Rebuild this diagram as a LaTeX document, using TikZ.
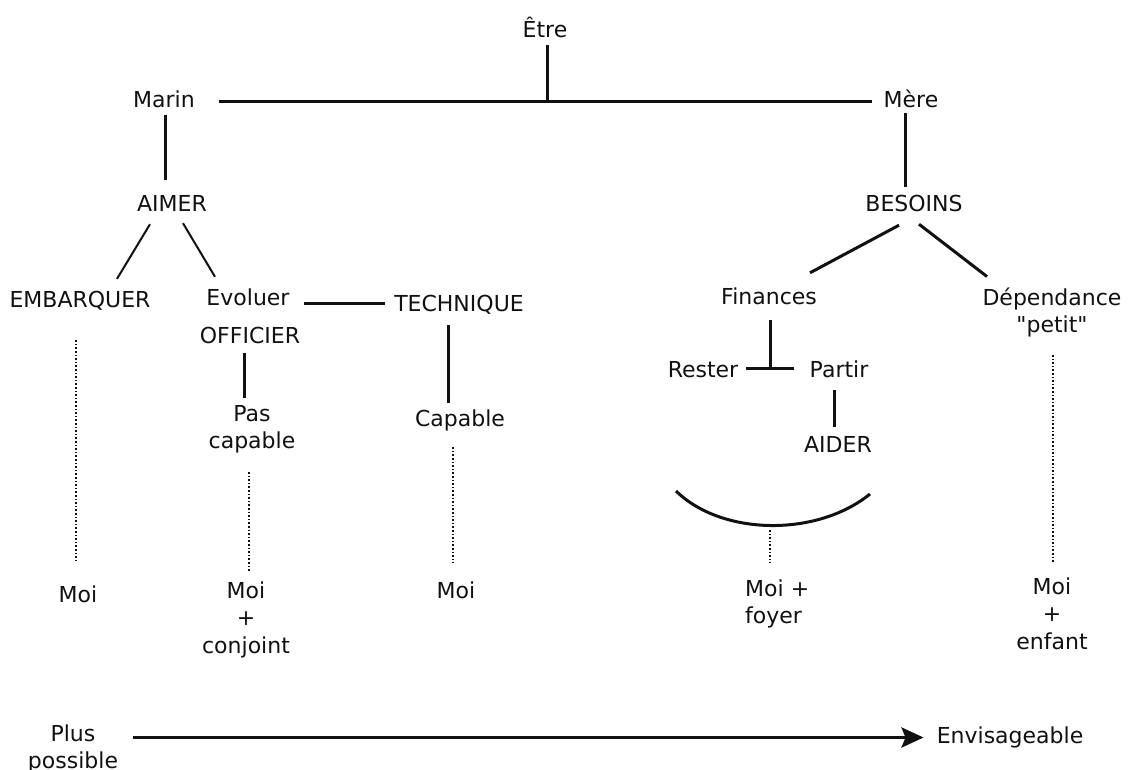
\documentclass[tikz,border=0pt]{standalone}
\usepackage{fontspec}
\setmainfont{DejaVu Sans}
\usetikzlibrary{arrows.meta}
\definecolor{ink}{HTML}{111111}
% straight double quote, set as a glyph so that the TeX text mapping leaves it alone
\newcommand\straightdq{\XeTeXglyph\XeTeXcharglyph"22\relax}

\tikzset{
  word/.style={inner sep=0pt, anchor=base, text height=16pt, text depth=5pt,
               font=\fontsize{22}{27.5}\selectfont, text=ink},
  stack/.style={inner sep=0pt, anchor=base, font=\fontsize{22}{27.5}\selectfont, text=ink},
  link/.style={line width=3pt, draw=ink},
  thinlink/.style={line width=2pt, draw=ink},
  hint/.style={line width=1.6pt, draw=ink, dash pattern=on 1.6pt off 2pt},
  arrowline/.style={line width=3.5pt, draw=ink,
                    -{Stealth[length=22pt,width=20pt,inset=4pt]}},
}

\begin{document}
\begin{tikzpicture}[x=1pt, y=-1pt]
\useasboundingbox (0,0) rectangle (1131,769);

% top of the tree
\node[word] (etre) at (545,37) {Être};
\node[word] (marin) at (164,107) {Marin};
\node[word] (mere) at (911,107) {Mère};
\coordinate (hub) at (547,103);

% left branch
\node[word] (aimer) at (172,211) {AIMER};
\node[word] (embarquer) at (80,307) {EMBARQUER};
\node[word] (evoluer) at (248,305) {Evoluer};
\node[word] (officier) at (250,343) {OFFICIER};
\node[word] (technique) at (459,311) {TECHNIQUE};
\node[stack] (pascap) at (252,421) {\begin{tabular}[t]{@{}c@{}}Pas\\capable\end{tabular}};
\node[word] (capable) at (460,426) {Capable};

% right branch
\node[word] (besoins) at (914,211) {BESOINS};
\node[word] (finances) at (769,304) {Finances};
\node[stack] (dep) at (1052,305) {\begin{tabular}[t]{@{}c@{}}Dépendance\\\straightdq petit\straightdq\end{tabular}};
\node[word] (rester) at (703,377) {Rester};
\node[word] (partir) at (839,377) {Partir};
\node[word] (aider) at (838,452) {AIDER};

% outcomes
\node[word] (moiA) at (78,602) {Moi};
\node[stack] (moiB) at (246,598) {\begin{tabular}[t]{@{}c@{}}Moi\\+\\conjoint\end{tabular}};
\node[word] (moiC) at (456,598) {Moi};
\node[stack, anchor=base west] (moiD) at (745,596) {\begin{tabular}[t]{@{}l@{}}Moi +\\foyer\end{tabular}};
\node[stack] (moiE) at (1052,594) {\begin{tabular}[t]{@{}c@{}}Moi\\+\\enfant\end{tabular}};

% scale at the bottom
\node[stack] (plus) at (73,741) {\begin{tabular}[t]{@{}c@{}}Plus\\possible\end{tabular}};
\node[word] (envis) at (1010,743) {Envisageable};

% solid links
\draw[link, shorten <=3pt] (etre.south -| hub) -- (hub);
\draw[link, shorten <=24pt, shorten >=12pt] (marin.east) -- (mere.west);
\draw[link, shorten <=3pt, shorten >=15pt, transform canvas={xshift=1pt}]
  (marin.south) -- (marin.south |- aimer.north);
\draw[link, shorten <=1pt, shorten >=8pt, transform canvas={xshift=-6pt}]
  (mere.south) -- (mere.south |- besoins.north);

\draw[thinlink] ([xshift=-22pt,yshift=-8pt]aimer.south) -- ([xshift=37pt,yshift=12pt]embarquer.north);
\draw[thinlink] ([xshift=11pt,yshift=-7pt]aimer.south) -- ([xshift=-33pt,yshift=12pt]evoluer.north);
\draw[link, shorten <=14.5pt, shorten >=9pt, transform canvas={yshift=-3.5pt}]
  (evoluer.east) -- (evoluer.east -| technique.west);
\draw[link, shorten <=9pt, shorten >=7pt, transform canvas={xshift=-11pt}]
  (technique.south) -- (technique.south |- capable.north);
\draw[link, shorten <=5pt, shorten >=4pt, transform canvas={xshift=-6pt}]
  (officier.south) -- (officier.south |- pascap.north);

\draw[link] ([xshift=-15pt,yshift=-9pt]besoins.south) -- ([xshift=41pt,yshift=15pt]finances.north);
\draw[link] ([xshift=5pt,yshift=-8pt]besoins.south) -- ([xshift=-65pt,yshift=9pt]dep.north);
\draw[link, shorten <=11pt, shorten >=3.5pt, transform canvas={xshift=1pt}]
  (finances.south) -- (finances.south |- rester.east);
\draw[link, shorten <=8pt, shorten >=16pt, transform canvas={yshift=3.5pt}]
  (rester.east) -- (partir.west);
\draw[link, shorten <=8pt, shorten >=9pt, transform canvas={xshift=-5pt}]
  (partir.south) -- (partir.south |- aider.north);

% bowl under AIDER
\coordinate (bowL) at (676,491);
\coordinate (bowR) at (870,494);
\coordinate (bowB) at (770,526);
\draw[link] (bowL) .. controls (722,536) and (817,537) .. (bowR);

% dotted links to the outcomes
\draw[hint, shorten <=28pt, shorten >=24pt, transform canvas={xshift=-4pt}]
  (embarquer.south) -- (embarquer.south |- moiA.north);
\draw[hint, shorten <=15pt, shorten >=7pt, transform canvas={xshift=-3pt}]
  (pascap.south) -- (pascap.south |- moiB.north);
\draw[hint, shorten <=16pt, shorten >=19pt, transform canvas={xshift=-7pt}]
  (capable.south) -- (capable.south |- moiC.north);
\draw[hint, shorten <=4pt, shorten >=14pt] (bowB) -- (bowB |- moiD.north);
\draw[hint, shorten <=14pt, shorten >=13pt, transform canvas={xshift=1pt}]
  (dep.south) -- (dep.south |- moiE.north);

% scale arrow
\draw[arrowline, shorten <=15pt, shorten >=13pt] (plus.east |- envis.west) -- (envis.west);
\end{tikzpicture}
\end{document}
